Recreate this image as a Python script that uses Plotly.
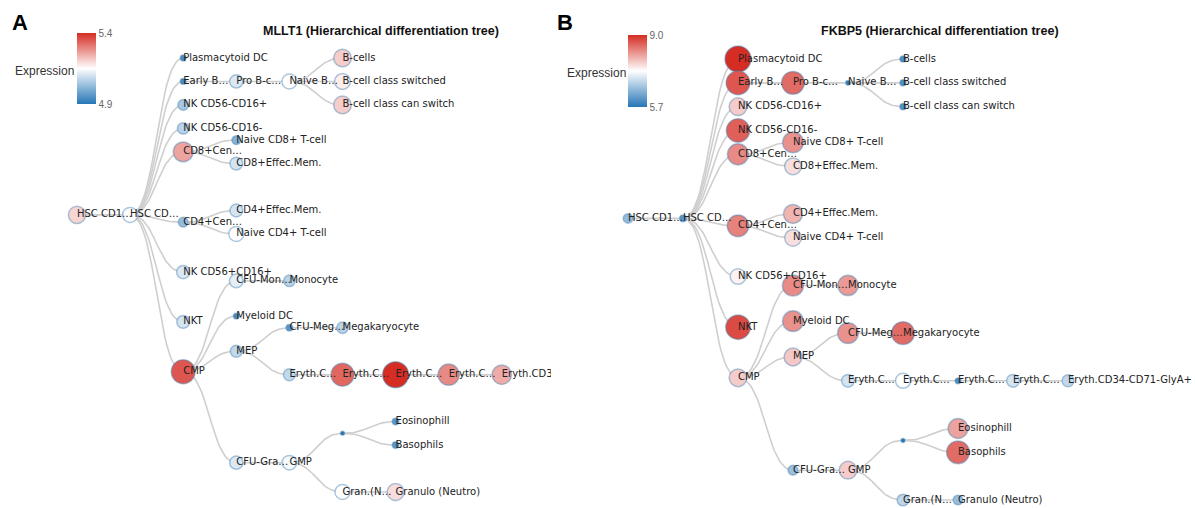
import plotly.graph_objects as go

# ---------------- data ----------------
node_names = [
    "HSC CD133+CD34dim", "HSC CD38-CD34+", "Plasmacytoid DC", "Early B-cell", "Pro B-cell",
    "Naive B-cells", "B-cells", "B-cell class switched", "B-cell class can switch",
    "NK CD56-CD16+", "NK CD56-CD16-", "CD8+Central Mem.", "Naive CD8+ T-cell", "CD8+Effec.Mem.",
    "CD4+Central Mem.", "CD4+Effec.Mem.", "Naive CD4+ T-cell", "NK CD56+CD16+", "NKT", "CMP",
    "CFU-Monocyte", "Monocyte", "Myeloid DC", "MEP", "CFU-Megakaryocyte", "Megakaryocyte",
    "Eryth.CD34+CD71+GlyA-", "Eryth.CD34-CD71+GlyA-", "Eryth.CD34-CD71+GlyA+",
    "Eryth.CD34-CD71lo GlyA+", "Eryth.CD34-CD71-GlyA+", "CFU-Granulocyte", "GMP", "",
    "Eosinophill", "Basophils", "Gran.(Neutro)", "Granulo (Neutro)",
]
node_labels = [
    "HSC CD1…", "HSC CD…", "Plasmacytoid DC", "Early B…", "Pro B-c…",
    "Naive B…", "B-cells", "B-cell class switched", "B-cell class can switch",
    "NK CD56-CD16+", "NK CD56-CD16-", "CD8+Cen…", "Naive CD8+ T-cell", "CD8+Effec.Mem.",
    "CD4+Cen…", "CD4+Effec.Mem.", "Naive CD4+ T-cell", "NK CD56+CD16+", "NKT", "CMP",
    "CFU-Mon…", "Monocyte", "Myeloid DC", "MEP", "CFU-Meg…", "Megakaryocyte",
    "Eryth.C…", "Eryth.C…", "Eryth.C…", "Eryth.C…", "Eryth.CD34-CD71-GlyA+",
    "CFU-Gra…", "GMP", "", "Eosinophill", "Basophils", "Gran.(N…", "Granulo (Neutro)",
]
node_parents = [
    -1, 0, 1, 1, 3, 4, 5, 5, 5, 1, 1, 1, 11, 11, 1, 14, 14, 1, 1, 1,
    19, 20, 19, 19, 23, 24, 23, 26, 27, 28, 29, 19, 31, 32, 33, 33, 32, 36,
]
mllt1_values = [
    5.20, 5.15, 4.94, 4.94, 5.11, 5.15, 5.21, 5.17, 5.21, 5.05, 5.07, 5.26, 5.01, 5.10,
    5.03, 5.10, 5.15, 5.11, 5.10, 5.35, 5.12, 5.07, 4.94, 5.08, 4.96, 5.07, 5.08, 5.33,
    5.40, 5.29, 5.25, 5.11, 5.14, 4.90, 4.96, 4.96, 5.15, 5.19,
]
fkbp5_values = [
    6.53, 6.10, 9.00, 8.67, 8.51, 5.80, 6.03, 6.03, 6.03, 7.75, 8.60, 8.27, 8.21, 7.61,
    8.34, 7.94, 7.61, 7.45, 8.77, 7.75, 8.27, 8.14, 8.21, 7.78, 8.21, 8.51, 7.02, 7.35,
    5.96, 7.02, 6.89, 6.59, 7.75, 5.70, 8.08, 8.51, 6.86, 6.56,
]
mllt1_range = [4.9, 5.4]
fkbp5_range = [5.7, 9.0]
panel_genes = ["MLLT1", "FKBP5"]
panel_letters = ["A", "B"]

# ---------------- tidy tree layout (d3.tree / Reingold-Tilford) ----------------
class TN:
    def __init__(self, idx, i):
        self.idx = idx
        self.parent = None
        self.children = None
        self.A = None
        self.a = self
        self.z = 0.0
        self.m = 0.0
        self.c = 0.0
        self.s = 0.0
        self.t = None
        self.i = i


def tidy_tree(parents):
    n = len(parents)
    kids = [[] for _ in range(n)]
    root = 0
    for k, p in enumerate(parents):
        if p < 0:
            root = k
        else:
            kids[p].append(k)

    def sep(a, b):
        return 1.0 if parents[a.idx] == parents[b.idx] else 2.0

    troot = TN(root, 0)
    stack = [troot]
    while stack:
        node = stack.pop()
        ch = kids[node.idx]
        if ch:
            node.children = [None] * len(ch)
            for i in range(len(ch) - 1, -1, -1):
                c = TN(ch[i], i)
                c.parent = node
                node.children[i] = c
                stack.append(c)
    fake = TN(None, 0)
    fake.children = [troot]
    troot.parent = fake

    def next_left(v):
        return v.children[0] if v.children else v.t

    def next_right(v):
        return v.children[-1] if v.children else v.t

    def move_subtree(wm, wp, shift):
        change = shift / (wp.i - wm.i)
        wp.c -= change
        wp.s += shift
        wm.c += change
        wp.z += shift
        wp.m += shift

    def execute_shifts(v):
        shift = 0.0
        change = 0.0
        for w in reversed(v.children):
            w.z += shift
            w.m += shift
            change += w.c
            shift += w.s + change

    def next_ancestor(vim, v, ancestor):
        return vim.a if vim.a.parent is v.parent else ancestor

    def apportion(v, w, ancestor):
        if w is not None:
            vip = v
            vop = v
            vim = w
            vom = vip.parent.children[0]
            sip = vip.m
            sop = vop.m
            sim = vim.m
            som = vom.m
            while True:
                vim = next_right(vim)
                vip = next_left(vip)
                if not (vim is not None and vip is not None):
                    break
                vom = next_left(vom)
                vop = next_right(vop)
                vop.a = v
                shift = vim.z + sim - vip.z - sip + sep(vim, vip)
                if shift > 0:
                    move_subtree(next_ancestor(vim, v, ancestor), v, shift)
                    sip += shift
                    sop += shift
                sim += vim.m
                sip += vip.m
                som += vom.m
                sop += vop.m
            if vim is not None and next_right(vop) is None:
                vop.t = vim
                vop.m += sim - sop
            if vip is not None and next_left(vom) is None:
                vom.t = vip
                vom.m += sip - som
                ancestor = v
        return ancestor

    def first_walk(v):
        children = v.children
        siblings = v.parent.children
        w = siblings[v.i - 1] if v.i else None
        if children:
            execute_shifts(v)
            midpoint = (children[0].z + children[-1].z) / 2.0
            if w is not None:
                v.z = w.z + sep(v, w)
                v.m = v.z - midpoint
            else:
                v.z = midpoint
        elif w is not None:
            v.z = w.z + sep(v, w)
        v.parent.A = apportion(v, w, v.parent.A or siblings[0])

    def post(v):
        if v.children:
            for c in v.children:
                post(c)
        first_walk(v)

    post(troot)
    fake.m = -troot.z
    pos = [0.0] * n
    depth = [0] * n

    def pre(v, d):
        pos[v.idx] = v.z + v.parent.m
        v.m += v.parent.m
        depth[v.idx] = d
        if v.children:
            for c in v.children:
                pre(c, d + 1)

    pre(troot, 0)
    return depth, pos


depth, breadth = tidy_tree(node_parents)

# ---------------- figure ----------------
W, H = 1195, 508
split = 551
colorscale = [[0.0, "rgb(38,118,183)"], [0.5, "rgb(255,255,255)"], [1.0, "rgb(213,45,36)"]]

panels = [
    dict(values=mllt1_values, rng=mllt1_range, x0=77, dx=53.1, top=58, bottom=492,
         dom=[0, split / W], px0=0, px1=split, cbx=77, cby=33, cblen=71, lbl_x=20, title_x=381,
         expr_x=44, expr_y=71),
    dict(values=fkbp5_values, rng=fkbp5_range, x0=628, dx=55.0, top=59, bottom=500,
         dom=[split / W, 1], px0=split, px1=W, cbx=628, cby=35, cblen=72, lbl_x=565, title_x=940,
         expr_x=596, expr_y=73),
]

fig = go.Figure()
zmin, zmax = min(breadth), max(breadth)
layout_axes = {}
annotations = []

for k, pnl in enumerate(panels):
    sfx = "" if k == 0 else str(k + 1)
    xa, ya = "x" + sfx, "y" + sfx
    vmin, vmax = pnl["rng"]
    vals = pnl["values"]
    tnorm = [(v - vmin) / (vmax - vmin) for v in vals]
    sizes = [2 * (2.0 + 11.0 * t) for t in tnorm]

    # links (horizontal cubic Bezier)
    lx, ly = [], []
    for c, p in enumerate(node_parents):
        if p < 0:
            continue
        x0, y0 = depth[p], breadth[p]
        x1, y1 = depth[c], breadth[c]
        xm = (x0 + x1) / 2.0
        for j in range(31):
            s = j / 30.0
            u = 1 - s
            bx = u**3 * x0 + 3 * u * u * s * xm + 3 * u * s * s * xm + s**3 * x1
            by = u**3 * y0 + 3 * u * u * s * y0 + 3 * u * s * s * y1 + s**3 * y1
            lx.append(bx)
            ly.append(by)
        lx.append(None)
        ly.append(None)
    fig.add_trace(go.Scatter(x=lx, y=ly, mode="lines", xaxis=xa, yaxis=ya,
                             line=dict(color="#cfcfcf", width=1.6), hoverinfo="skip",
                             showlegend=False))
    ca = "coloraxis" + sfx
    fig.add_trace(go.Scatter(
        x=depth, y=breadth, mode="markers", xaxis=xa, yaxis=ya,
        marker=dict(size=sizes, color=vals, coloraxis=ca,
                    line=dict(color="rgba(70,130,180,0.45)", width=1.5), opacity=1),
        text=node_names, hovertemplate="%{text}: %{marker.color:.2f}<extra></extra>",
        showlegend=False))
    fig.add_trace(go.Scatter(
        x=depth, y=breadth, mode="text", xaxis=xa, yaxis=ya, text=node_labels,
        textposition="middle right",
        textfont=dict(family="DejaVu Sans", size=10, color="#222222"),
        hoverinfo="skip", showlegend=False, cliponaxis=True))

    upx = (pnl["bottom"] - pnl["top"]) / (zmax - zmin)
    yr = [zmax + (H - pnl["bottom"]) / upx, zmin - pnl["top"] / upx]
    xr = [(pnl["px0"] - pnl["x0"]) / pnl["dx"], (pnl["px1"] - pnl["x0"]) / pnl["dx"]]
    layout_axes["xaxis" + sfx] = dict(domain=pnl["dom"], range=xr, visible=False,
                                      anchor=ya, fixedrange=True)
    layout_axes["yaxis" + sfx] = dict(domain=[0, 1], range=yr, visible=False,
                                      anchor=xa, fixedrange=True)
    layout_axes[ca] = dict(
        cmin=vmin, cmax=vmax, colorscale=colorscale,
        colorbar=dict(
            x=pnl["cbx"] / W, xanchor="left", xpad=0, ypad=0,
            y=1 - pnl["cby"] / H, yanchor="top",
            thickness=19, thicknessmode="pixels", len=pnl["cblen"], lenmode="pixels",
            outlinewidth=0, tickvals=[vmin, vmax],
            ticktext=["%.1f" % vmin, "%.1f" % vmax], ticks="",
            tickfont=dict(family="Liberation Sans", size=10, color="#666666"),
        ),
    )
    annotations.append(dict(
        x=pnl["lbl_x"] / W, y=1 - 22 / H, xref="paper", yref="paper",
        text="<b>%s</b>" % panel_letters[k], showarrow=False,
        font=dict(family="Liberation Sans", size=22, color="#000000"),
        xanchor="center", yanchor="middle"))
    annotations.append(dict(
        x=pnl["title_x"] / W, y=1 - 31 / H, xref="paper", yref="paper",
        text="<b>%s (Hierarchical differentiation tree)</b>" % panel_genes[k], showarrow=False,
        font=dict(family="Liberation Sans", size=12.5, color="#111111"),
        xanchor="center", yanchor="middle"))
    annotations.append(dict(
        x=pnl["expr_x"] / W, y=1 - pnl["expr_y"] / H, xref="paper", yref="paper",
        text="Expression", showarrow=False,
        font=dict(family="Liberation Sans", size=12, color="#333333"),
        xanchor="center", yanchor="middle"))

fig.update_layout(
    width=W, height=H, margin=dict(l=0, r=0, t=0, b=0),
    paper_bgcolor="white", plot_bgcolor="white",
    annotations=annotations, hovermode="closest", **layout_axes)

fig.write_html("out.html")
